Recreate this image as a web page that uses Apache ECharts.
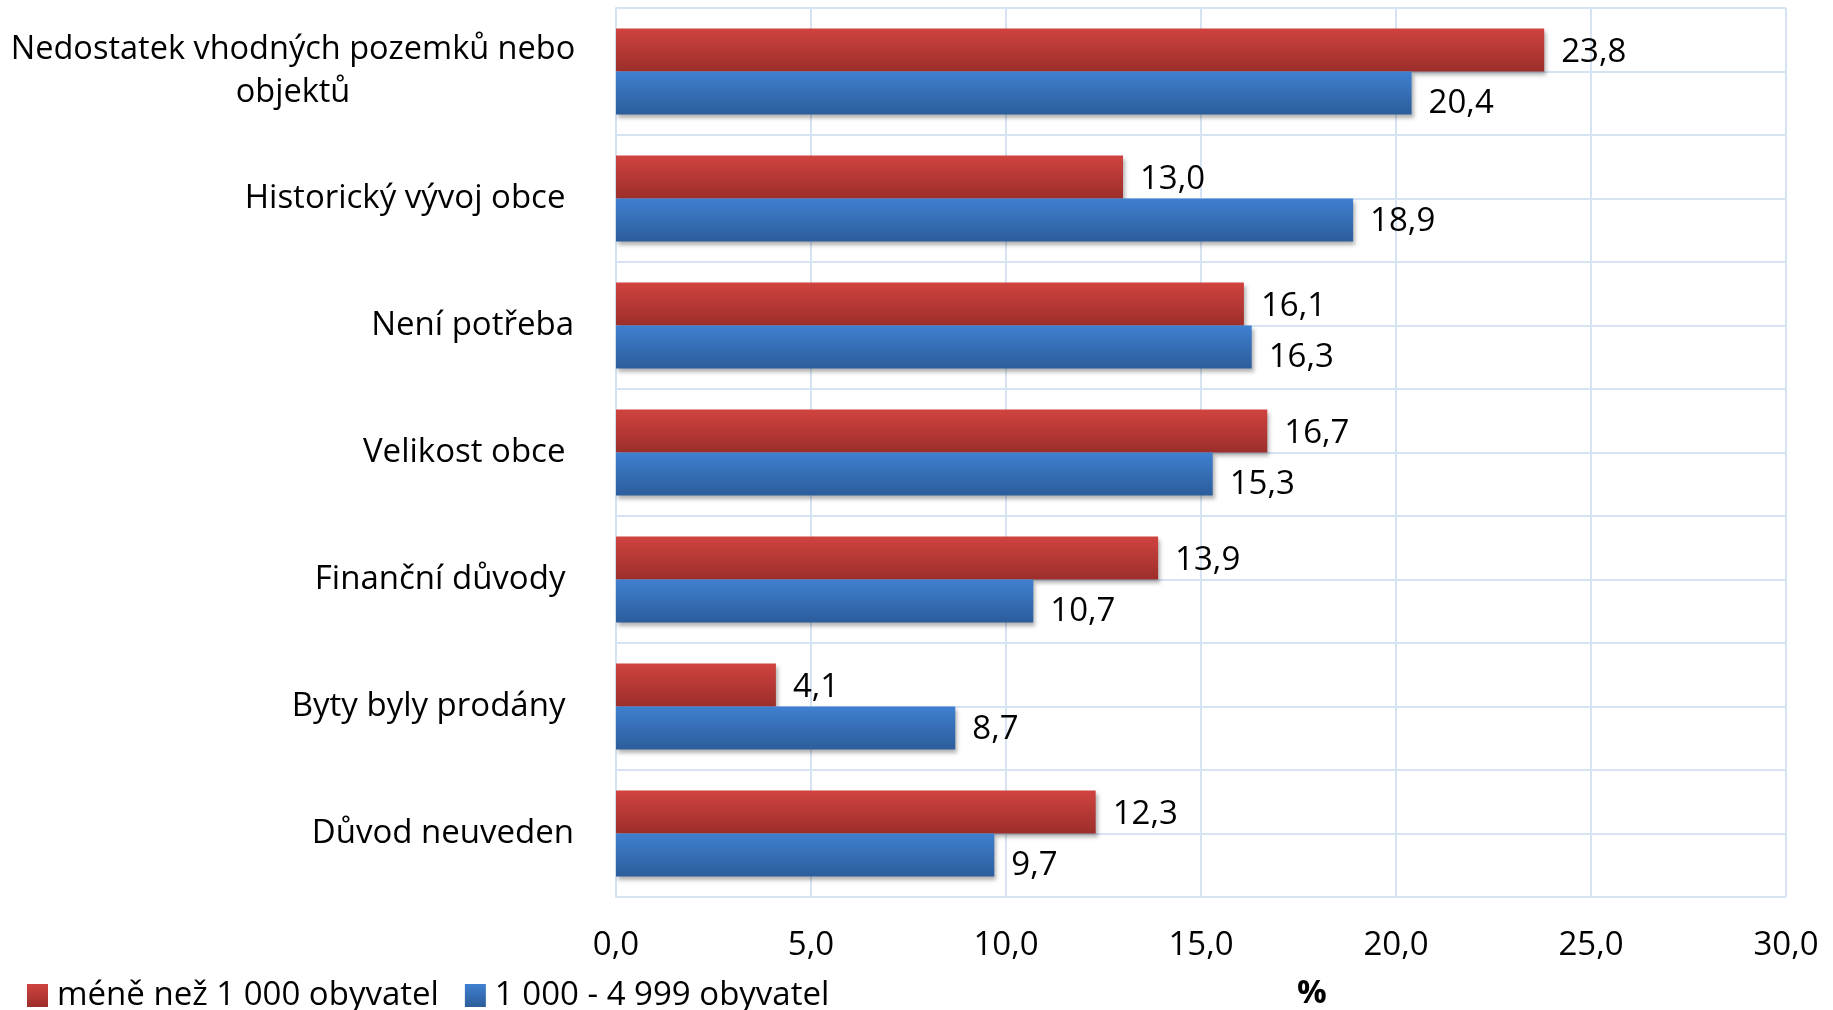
<!DOCTYPE html>
<html>
<head>
<meta charset="utf-8">
<script src="https://cdn.jsdelivr.net/npm/echarts@6/dist/echarts.min.js"></script>
<style>
  html, body { margin: 0; padding: 0; background: #fff; }
  #chart { width: 1833px; height: 1010px; }
</style>
</head>
<body>
<div id="chart"></div>
<script>
const categories = [
  'Nedostatek vhodných pozemků nebo\nobjektů',
  'Historický vývoj obce ',
  'Není potřeba',
  'Velikost obce ',
  'Finanční důvody ',
  'Byty byly prodány ',
  'Důvod neuveden'
]
const seriesNames = ['méně než 1 000 obyvatel', '1 000 - 4 999 obyvatel']
const smallVillages = [23.8, 13.0, 16.1, 16.7, 13.9, 4.1, 12.3]
const midVillages = [20.4, 18.9, 16.3, 15.3, 10.7, 8.7, 9.7]
const xTicks = [0, 5, 10, 15, 20, 25, 30]

const font = '"Open Sans", Lato, sans-serif'
const fontSize = 33
const gridColor = '#d6e3f3'
const fmt = v => Number(v).toFixed(1).replace('.', ',')

function gradient(top, bottom) {
  return new echarts.graphic.LinearGradient(0, 0, 0, 1, [
    { offset: 0, color: top },
    { offset: 1, color: bottom }
  ])
}

const chart = echarts.init(document.getElementById('chart'))

// half-band lines: one extra hidden category axis with twice the slots
const halfSlots = categories.flatMap((c, i) => [i + 'a', i + 'b'])

const barShadow = {
  shadowBlur: 4,
  shadowOffsetX: 2,
  shadowOffsetY: 3,
  shadowColor: 'rgba(0,0,0,0.3)'
}

const option = {
  animation: false,
  backgroundColor: '#fff',
  grid: {
    left: 616,
    right: 47,
    top: 8,
    bottom: 113,
    outerBoundsMode: 'none'
  },
  legend: {
    left: 22,
    top: 974,
    itemWidth: 21,
    itemHeight: 23,
    itemGap: 26,
    icon: 'rect',
    textStyle: {
      fontFamily: font,
      fontSize: fontSize,
      color: '#000',
      padding: [0, 0, 0, 4]
    },
    data: seriesNames
  },
  xAxis: {
    type: 'value',
    min: xTicks[0],
    max: xTicks[xTicks.length - 1],
    interval: 5,
    axisLine: { show: false },
    axisTick: { show: false },
    axisLabel: {
      margin: 32,
      fontFamily: font,
      fontSize: fontSize,
      color: '#000',
      formatter: fmt
    },
    splitLine: { show: true, lineStyle: { color: gridColor, width: 2 } }
  },
  yAxis: [
    {
      type: 'category',
      inverse: true,
      data: categories,
      axisLine: { show: true, lineStyle: { color: gridColor, width: 2 } },
      axisTick: { show: false },
      axisLabel: {
        margin: 42,
        fontFamily: font,
        fontSize: fontSize,
        color: '#000',
        lineHeight: 43,
        formatter: (v) => {
          if (v.indexOf('\n') < 0) return v
          return v.split('\n').map(s => '{c|' + s + '}').join('\n')
        },
        rich: {
          c: {
            width: 562,
            align: 'center',
            fontFamily: font,
            fontSize: 32.5,
            lineHeight: 43,
            color: '#000'
          }
        }
      },
      splitLine: { show: true, lineStyle: { color: gridColor, width: 2 } }
    },
    {
      type: 'category',
      inverse: true,
      data: halfSlots,
      position: 'left',
      axisLine: { show: false },
      axisTick: { show: false },
      axisLabel: { show: false },
      splitLine: { show: true, lineStyle: { color: gridColor, width: 2 } }
    }
  ],
  graphic: [
    {
      type: 'text',
      left: 1297,
      top: 977,
      style: {
        text: '%',
        font: 'bold ' + fontSize + 'px ' + font,
        fill: '#000'
      }
    }
  ],
  series: [
    {
      name: seriesNames[0],
      type: 'bar',
      yAxisIndex: 0,
      barWidth: 43,
      barGap: '0%',
      data: smallVillages,
      itemStyle: Object.assign({ color: gradient('#d0433f', '#9c2e2b') }, barShadow),
      label: {
        show: true,
        position: 'right',
        distance: 17,
        offset: [0, 3],
        fontFamily: font,
        fontSize: fontSize,
        color: '#000',
        formatter: p => fmt(p.value)
      }
    },
    {
      name: seriesNames[1],
      type: 'bar',
      yAxisIndex: 0,
      barWidth: 43,
      barGap: '0%',
      data: midVillages.map((v, i) => ({
        value: v,
        // label nudged down where it would crowd the red label above
        label: { offset: [0, v < smallVillages[i] + 1 ? 11 : 2] }
      })),
      itemStyle: Object.assign({ color: gradient('#3f80d0', '#2c5d9b') }, barShadow),
      label: {
        show: true,
        position: 'right',
        distance: 17,
        fontFamily: font,
        fontSize: fontSize,
        color: '#000',
        formatter: p => fmt(p.value)
      }
    }
  ]
}

chart.setOption(option)
</script>
</body>
</html>
